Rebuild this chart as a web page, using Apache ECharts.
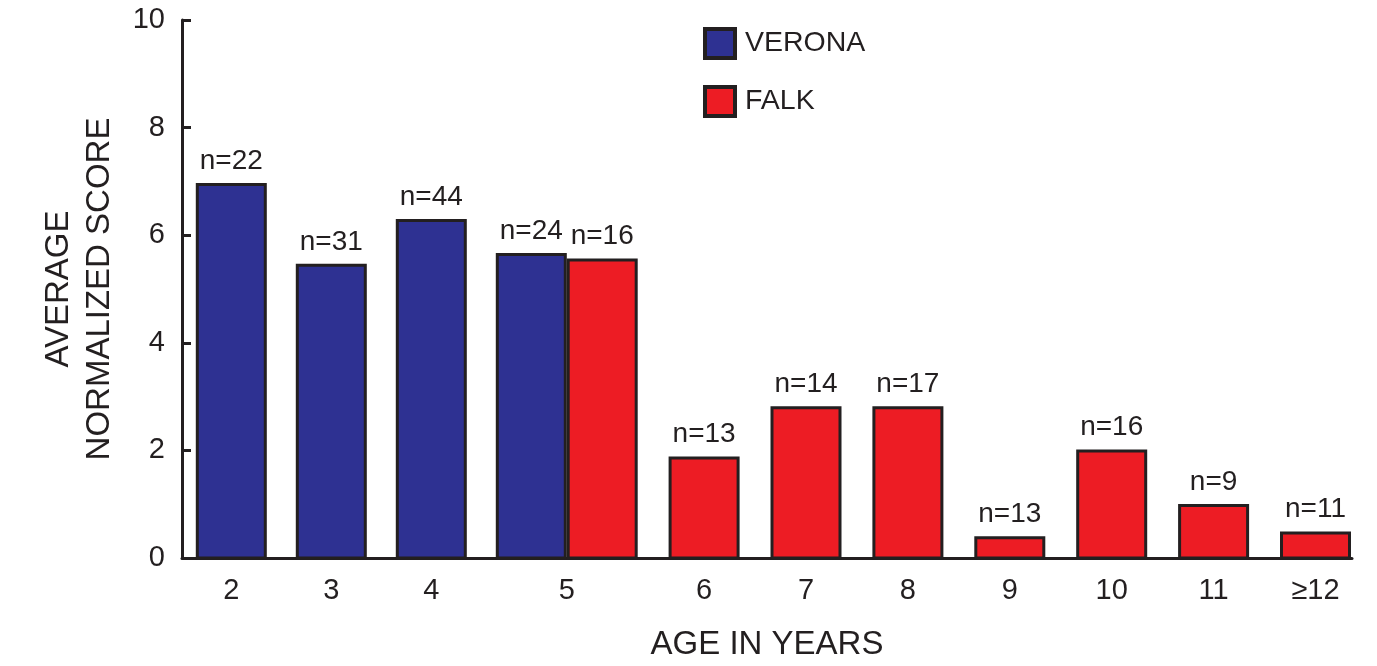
<!DOCTYPE html>
<html>
<head>
<meta charset="utf-8">
<script src="https://cdn.jsdelivr.net/npm/echarts@6/dist/echarts.min.js"></script>
<style>
html,body{margin:0;padding:0;background:#fff;}
#chart{width:1377px;height:666px;}
</style>
</head>
<body>
<div id="chart"></div>
<script>
// ---- data ----
const veronaAges = ['2', '3', '4', '5'];
const veronaScores = [6.98, 5.48, 6.31, 5.68];
const veronaN = [22, 31, 44, 24];

const falkAges = ['5', '6', '7', '8', '9', '10', '11', '≥12'];
const falkScores = [5.58, 1.91, 2.84, 2.84, 0.43, 2.04, 1.03, 0.52];
const falkN = [16, 13, 14, 17, 13, 16, 9, 11];

const yTicks = [0, 2, 4, 6, 8, 10];
const sharedAge = '5';

// ---- style ----
const INK = '#231f20';
const BLUE = '#2e3192';
const RED = '#ed1c24';
const FONT = '"Liberation Sans", Arial, Helvetica, sans-serif';
const TOP = 20, BOTTOM = 666 - 559.5;

const chart = echarts.init(document.getElementById('chart'), null, {renderer: 'canvas'});

function barLabel(nArr) {
  return {
    show: true,
    position: 'top',
    distance: 8,
    fontFamily: FONT,
    fontSize: 28,
    color: INK,
    formatter: p => 'n=' + nArr[p.dataIndex]
  };
}

const option = {
  backgroundColor: '#fff',
  animation: false,
  legend: {
    orient: 'vertical',
    left: 703,
    top: 27,
    padding: 0,
    itemWidth: 30,
    itemHeight: 29,
    itemGap: 25,
    icon: 'rect',
    data: ['VERONA', 'FALK'],
    itemStyle: {borderColor: INK, borderWidth: 4},
    textStyle: {fontFamily: FONT, fontSize: 28.5, color: INK, padding: [0, 0, 0, 5]}
  },
  grid: [
    {left: 182, right: 1377 - 1352, top: TOP, bottom: BOTTOM},
    {left: 181.3, width: 400, top: TOP, bottom: BOTTOM},
    {left: 551.25, width: 815.2, top: TOP, bottom: BOTTOM}
  ],
  xAxis: [
    {
      gridIndex: 0, type: 'value', min: 0, max: 1,
      axisLine: {show: true, lineStyle: {color: INK, width: 3}},
      axisTick: {show: false}, axisLabel: {show: false}, splitLine: {show: false},
      name: 'AGE IN YEARS', nameLocation: 'middle', nameGap: 70,
      nameTextStyle: {fontFamily: FONT, fontSize: 33, color: INK}
    },
    {
      gridIndex: 1, type: 'category', data: veronaAges,
      axisLine: {show: false}, axisTick: {show: false}, splitLine: {show: false},
      axisLabel: {interval: 0, margin: 17, fontFamily: FONT, fontSize: 29, color: INK,
        formatter: v => v === sharedAge ? '' : v}
    },
    {
      gridIndex: 2, type: 'category', data: falkAges,
      axisLine: {show: false}, axisTick: {show: false}, splitLine: {show: false},
      axisLabel: {interval: 0, margin: 17, fontFamily: FONT, fontSize: 29, color: INK,
        formatter: v => v === sharedAge ? '{s|' + v + '}' : v,
        rich: {s: {fontFamily: FONT, fontSize: 29, color: INK, padding: [0, 71, 0, 0]}}}
    }
  ],
  yAxis: [
    {
      gridIndex: 0, type: 'value', min: yTicks[0], max: yTicks[yTicks.length - 1], interval: 2,
      axisLine: {show: true, lineStyle: {color: INK, width: 3}},
      axisTick: {show: true, inside: true, length: 9, lineStyle: {color: INK, width: 3}},
      splitLine: {show: false},
      axisLabel: {margin: 17, fontFamily: FONT, fontSize: 29, color: INK},
      name: 'AVERAGE\nNORMALIZED SCORE', nameLocation: 'middle', nameRotate: 90, nameGap: 62,
      nameTextStyle: {fontFamily: FONT, fontSize: 33, color: INK, lineHeight: 41, align: 'center'}
    },
    {gridIndex: 1, type: 'value', min: 0, max: 10, show: false},
    {gridIndex: 2, type: 'value', min: 0, max: 10, show: false}
  ],
  series: [
    {
      name: 'VERONA', type: 'bar', xAxisIndex: 1, yAxisIndex: 1,
      data: veronaScores, barWidth: 71,
      itemStyle: {color: BLUE, borderColor: INK, borderWidth: 3},
      label: barLabel(veronaN)
    },
    {
      name: 'FALK', type: 'bar', xAxisIndex: 2, yAxisIndex: 2,
      data: falkScores, barWidth: 71,
      itemStyle: {color: RED, borderColor: INK, borderWidth: 3},
      label: barLabel(falkN)
    }
  ]
};
chart.setOption(option);
</script>
</body>
</html>
